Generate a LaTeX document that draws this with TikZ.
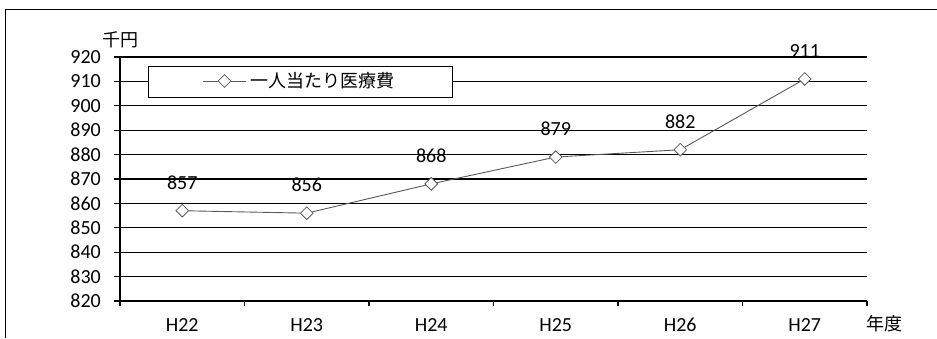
\documentclass[tikz,border=0pt]{standalone}
\usepackage{fontspec}
\setmainfont{Carlito}
\newfontfamily\jpfont{Noto Sans CJK JP}
\usetikzlibrary{shapes.geometric}

\begin{document}
\begin{tikzpicture}[
                    x=1pt,
                    y=-1pt,
                    font=\fontsize{20}{23}\selectfont,
                    gridline/.style={black, line width=1.2pt},
                    series/.style={gray!70!black, line width=0.9pt},
                    dmark/.style={diamond, draw=gray!70!black, fill=white, line width=0.8pt,
                                  inner sep=0pt, minimum width=13pt, minimum height=13pt},
                    vlabel/.style={anchor=east, inner sep=0pt},
                    jptext/.style={font=\jpfont\fontsize{18}{21}\selectfont, inner sep=0pt}
                ]
                \useasboundingbox (0,0) rectangle (937,338);

                % frame
                \draw[line width=0.8pt] (5,338) -- (5,9) -- (937,9);

                % grid and value axis
                \foreach \v in {820,830,...,920} {
                    \draw[gridline] (114,{301-(\v-820)*2.44}) -- (867,{301-(\v-820)*2.44});
                    \node[vlabel] (y\v) at (101,{301-(\v-820)*2.44}) {\v};
                }
                \draw[gridline] (120,57) -- (120,301);
                \foreach \k in {0,...,6}
                    \draw[gridline] ({120+124.5*\k},301) -- ++(0,5);

                \node[jptext] (unit) at (120,40) {千円};
                \node[jptext] (year) at (884,324) {年度};

                % data
                \foreach \yr/\val [count=\i] in {H22/857,H23/856,H24/868,H25/879,H26/882,H27/911} {
                    \node[dmark] (p\i) at ({120+124.5*(\i-0.5)},{301-(\val-820)*2.44}) {};
                    \node (v\i) at ([yshift=28pt]p\i) {\val};
                    \node (c\i) at ({120+124.5*(\i-0.5)},325) {\yr};
                }

                \path[series]
                (p1) edge (p2)
                (p2) edge (p3)
                (p3) edge (p4)
                (p4) edge (p5)
                (p5) edge (p6)
                ;

                % legend
                \node[draw, fill=white, line width=1.1pt, anchor=north west,
                      minimum width=304pt, minimum height=31pt] (legend) at (148,66) {};
                \coordinate (lstart) at (203,81);
                \coordinate (lend) at (246,81);
                \node[dmark] (lmark) at (224.5,81) {};
                \draw[series] (lstart) -- (lmark) -- (lend);
                \node[jptext, anchor=west] (ltext) at (250,81) {一人当たり医療費};
            \end{tikzpicture}
\end{document}
